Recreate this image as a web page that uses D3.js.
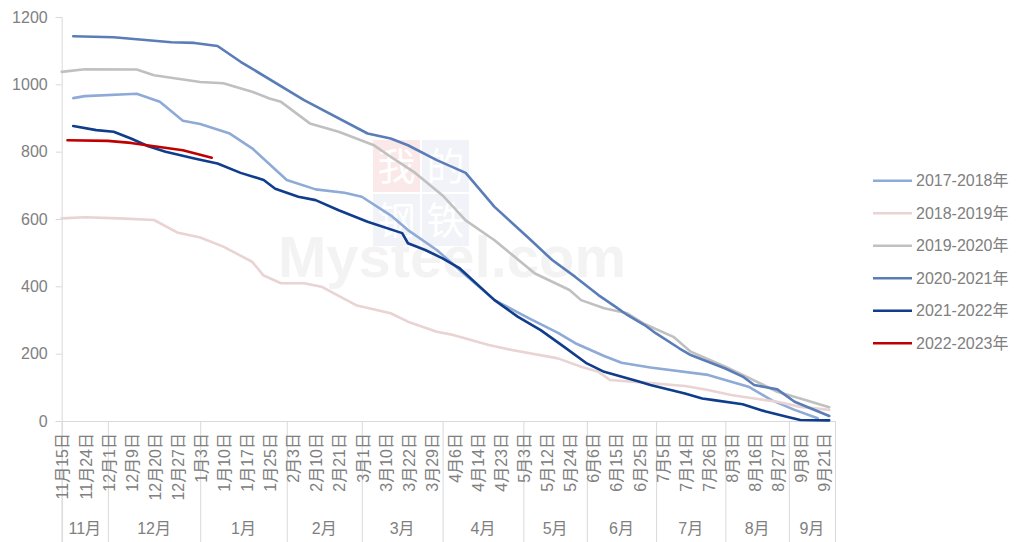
<!DOCTYPE html>
<html>
<head>
<meta charset="utf-8">
<script src="https://cdn.jsdelivr.net/npm/d3@7"></script>
<style>
  body { margin: 0; background: #fff; }
  text { font-family: "Liberation Sans", "Noto Sans CJK SC", sans-serif; }
</style>
</head>
<body>
<div id="app"></div>
<script>
// category axis: 135 categories (on tick marks), label shown every 4th category
const categoryCount = 135;
const labelStep = 4;
const dateLabels = [
  "11月15日", "11月24日", "12月1日", "12月9日", "12月20日", "12月27日",
  "1月3日", "1月10日", "1月17日", "1月25日", "2月3日", "2月10日", "2月21日",
  "3月1日", "3月10日", "3月22日", "3月29日", "4月6日", "4月14日", "4月23日",
  "5月3日", "5月12日", "5月24日", "6月6日", "6月15日", "6月25日",
  "7月5日", "7月14日", "7月26日", "8月3日", "8月16日", "8月27日", "9月8日", "9月21日"
];
const months = ["11月", "12月", "1月", "2月", "3月", "4月", "5月", "6月", "7月", "8月", "9月"];
const monthStart = [0, 8, 24, 39, 52, 66, 80, 91, 103, 115, 126];
const yTicks = [0, 200, 400, 600, 800, 1000, 1200];

// [category index, value]
const s2017 = [[2,959],[4,965],[13,972],[17,948],[21,892],[24,882],[29,855],[33,810],[39,716],[44,688],[49,678],[52,666],[57,611],[60,567],[65,508],[69,448],[75,359],[81,305],[86,262],[89,231],[94,193],[97,173],[102,159],[112,137],[119,102],[123,62],[127,33],[131,8]];
const s2018 = [[0,602],[4,605],[10,602],[16,597],[20,560],[24,545],[28,518],[33,473],[35,432],[38,409],[42,409],[45,399],[51,344],[57,320],[60,295],[65,265],[68,255],[74,226],[78,211],[86,186],[90,161],[93,146],[95,122],[101,114],[108,104],[112,92],[116,77],[120,67],[124,57],[128,42],[133,33]];
const s2019 = [[0,1037],[4,1045],[13,1044],[16,1027],[24,1007],[28,1003],[33,978],[36,958],[38,948],[43,884],[48,859],[54,820],[57,785],[61,740],[66,670],[70,596],[75,537],[82,438],[88,389],[90,359],[94,335],[98,320],[101,288],[106,250],[109,206],[115,161],[118,137],[124,87],[129,62],[133,41]];
const s2020 = [[2,1143],[9,1140],[13,1134],[19,1125],[23,1123],[27,1114],[31,1067],[42,953],[53,854],[57,839],[60,819],[65,775],[70,737],[75,636],[81,542],[85,478],[89,428],[93,374],[96,339],[98,315],[101,285],[103,260],[107,216],[109,196],[115,156],[118,132],[120,107],[124,94],[127,57],[133,15]];
const s2021 = [[2,876],[6,864],[9,859],[12,839],[15,816],[18,800],[23,780],[27,765],[31,737],[35,716],[37,690],[41,666],[44,656],[48,626],[53,592],[59,558],[60,528],[63,508],[66,483],[69,453],[75,359],[79,310],[83,270],[87,221],[91,171],[94,146],[100,117],[102,107],[108,82],[111,67],[113,62],[118,50],[122,28],[126,11],[128,3],[133,2]];
const s2022 = [[1,834],[8,832],[12,826],[16,816],[21,804],[26,782]];

const seriesNames = ["2017-2018年", "2018-2019年", "2019-2020年", "2020-2021年", "2021-2022年", "2022-2023年"];
const seriesValues = [s2017, s2018, s2019, s2020, s2021, s2022];
const seriesColors = ["#8eaad6", "#ead3d3", "#c0c0c0", "#5a7db8", "#0f3d8c", "#c00000"];

function draw() {
  const width = 1020;
  const height = 542;
  const plot = { left: 61.7, right: 835, top: 17, bottom: 421 };
  const textColor = "#808080";
  const lineColor = "#d9d9d9";

  const svg = d3.select("#app").append("svg").attr("width", width).attr("height", height);

  const x = d3.scaleLinear().domain([0, categoryCount - 1]).range([plot.left, plot.right]);
  const y = d3.scaleLinear().domain([0, 1200]).range([plot.bottom, plot.top]);

  // WATERMARK (very faint logo behind the lines)
  const wm = svg.append("g");
  const wmChars = [["我", "#fbe9e9"], ["的", "#f1f3f9"], ["钢", "#f1f3f9"], ["铁", "#f1f3f9"]];
  wmChars.forEach((c, i) => {
    const bx = 373 + (i % 2) * 49;
    const by = 140 + Math.floor(i / 2) * 54;
    wm.append("rect").attr("x", bx).attr("y", by).attr("width", 47).attr("height", 52).attr("fill", c[1]);
    wm.append("text")
      .attr("x", bx + 23.5)
      .attr("y", by + 26)
      .attr("dy", "0.36em")
      .attr("text-anchor", "middle")
      .style("font-family", "'Noto Sans CJK SC', sans-serif")
      .style("font-size", "38px")
      .attr("fill", "#fff")
      .text(c[0]);
  });
  wm.append("text")
    .attr("x", 452)
    .attr("y", 277)
    .attr("text-anchor", "middle")
    .style("font-size", "58px")
    .style("font-weight", "bold")
    .attr("fill", "#f3f3f3")
    .text("Mysteel.com");

  // Y AXIS
  const yAxis = svg.append("g")
    .attr("transform", `translate(${plot.left},0)`)
    .call(d3.axisLeft(y).tickValues(yTicks).tickSize(6).tickPadding(8).tickFormat(d3.format("d")));
  yAxis.select(".domain").attr("stroke", lineColor);
  yAxis.selectAll(".tick line").attr("stroke", lineColor);
  yAxis.selectAll(".tick text").attr("fill", textColor).style("font-size", "16px");

  // X AXIS: baseline and month dividers
  const boundaries = monthStart.concat([categoryCount - 1]);
  const xAxis = svg.append("g")
    .attr("transform", `translate(0,${plot.bottom})`)
    .call(d3.axisBottom(x).tickValues(boundaries).tickSize(height - plot.bottom).tickFormat(""));
  xAxis.select(".domain").attr("stroke", lineColor);
  xAxis.selectAll(".tick line").attr("stroke", lineColor);

  // date labels, rotated
  svg.append("g")
    .selectAll("text")
    .data(dateLabels)
    .join("text")
    .attr("transform", (d, i) => `translate(${x(i * labelStep) + 1},${plot.bottom + 12}) rotate(-90)`)
    .attr("text-anchor", "end")
    .attr("dy", "0.36em")
    .attr("fill", textColor)
    .style("font-size", "16px")
    .text(d => d);

  // month labels
  svg.append("g")
    .selectAll("text")
    .data(months)
    .join("text")
    .attr("x", (d, i) => (x(boundaries[i]) + x(boundaries[i + 1])) / 2)
    .attr("y", 528)
    .attr("dy", "0.36em")
    .attr("text-anchor", "middle")
    .attr("fill", textColor)
    .style("font-size", "16px")
    .text(d => d);

  // LINES
  const line = d3.line().x(d => x(d[0])).y(d => y(d[1]));
  svg.append("g")
    .selectAll("path")
    .data(seriesValues)
    .join("path")
    .attr("d", line)
    .attr("fill", "none")
    .attr("stroke", (d, i) => seriesColors[i])
    .attr("stroke-width", 2.6)
    .attr("stroke-linejoin", "round")
    .attr("stroke-linecap", "round");

  // LEGEND
  const legend = svg.append("g")
    .selectAll("g")
    .data(seriesNames)
    .join("g")
    .attr("transform", (d, i) => `translate(873,${180.7 + i * 32.5})`);
  legend.append("line")
    .attr("x1", 0).attr("x2", 39)
    .attr("stroke", (d, i) => seriesColors[i])
    .attr("stroke-width", 2.6);
  legend.append("text")
    .attr("x", 43)
    .attr("dy", "0.36em")
    .attr("fill", textColor)
    .style("font-size", "16px")
    .text(d => d);
}
draw();
</script>
</body>
</html>
